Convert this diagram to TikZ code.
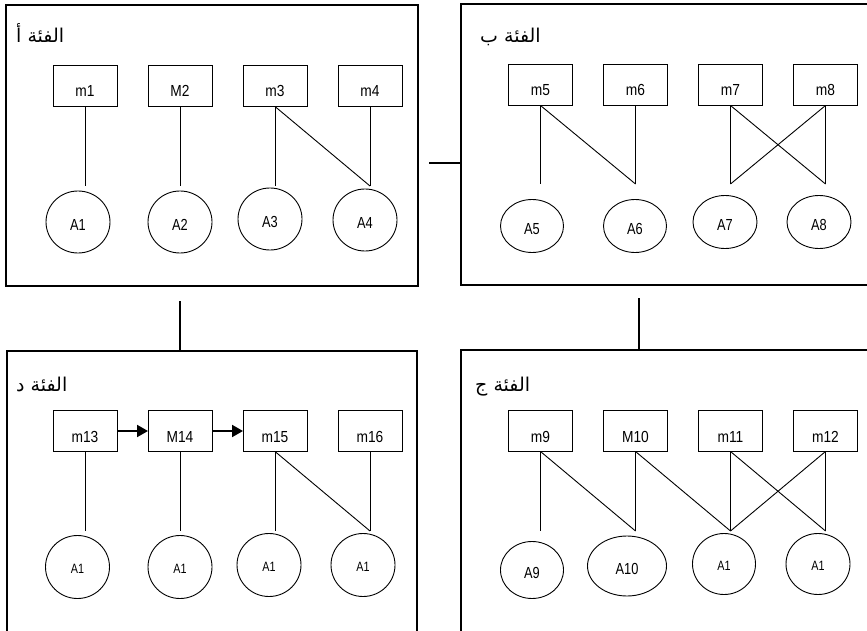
\documentclass[tikz,border=0pt]{standalone}
\usepackage{fontspec}
\usetikzlibrary{positioning, arrows.meta, shapes.geometric}
\setmainfont{Liberation Sans}
\newfontfamily\arabicfont[Script=Arabic]{DejaVu Sans}
\newfontfamily\narrowfont[FakeStretch=0.86]{Liberation Sans}
\newfontfamily\slimfont[FakeStretch=0.8]{Liberation Sans}
\TeXXeTstate=1

\begin{document}
\begin{tikzpicture}[
  x=1pt, y=-1pt,
  panel/.style={draw, line width=1.3pt, inner sep=0pt},
  ttl/.style={anchor=base west, inner sep=0pt, font=\arabicfont\fontsize{19}{21}\selectfont},
  mbox/.style={draw, line width=0.9pt, minimum width=64pt, minimum height=41pt, inner sep=0pt,
               outer sep=0pt, text height=22pt, text depth=0pt, font=\narrowfont\fontsize{16}{18}\selectfont},
  att/.style={draw, ellipse, line width=0.9pt, inner sep=0pt, text height=17pt, text depth=0pt,
              font=\slimfont\fontsize{16}{18}\selectfont},
  attsm/.style={att, text height=13pt, font=\slimfont\fontsize{13.5}{15}\selectfont},
  link/.style={line width=0.9pt},
  tie/.style={line width=1.1pt},
  arr/.style={-{Triangle[length=11pt, width=12pt]}, line width=2pt}
]
\useasboundingbox (0,0) rectangle (867,631);

% Panels
\node[panel, minimum width=412pt, minimum height=281pt] (pa) at (212,145.5) {};
\node[panel, minimum width=419pt, minimum height=281pt] (pb) at (670.5,144.5) {};
\node[panel, minimum width=410pt, minimum height=294pt] (pd) at (212,498) {};
\node[panel, minimum width=419pt, minimum height=295pt] (pc) at (670.5,497.5) {};

\node[ttl] (ta) at (16,43) {\beginR الفئة أ\endR};
\node[ttl] (tb) at (480,43) {\beginR الفئة ب\endR};
\node[ttl] (td) at (16,391) {\beginR الفئة د\endR};
\node[ttl] (tc) at (475,391) {\beginR الفئة ج\endR};

% Links between panels
\coordinate (hab) at (429,163);
\coordinate (vad) at (180,301);
\coordinate (vbc) at (639,298);
\draw[tie] (hab) -- (hab -| pb.west);
\draw[tie] (vad) -- (vad |- pd.north);
\draw[tie] (vbc) -- (vbc |- pc.north);

% Panel A
\node[mbox] (m1) at (85,86) {m1};
\node[mbox, right=31pt of m1] (m2) {M2};
\node[mbox, right=31pt of m2] (m3) {m3};
\node[mbox, right=31pt of m3] (m4) {m4};
\node[att, minimum width=64pt, minimum height=62pt] (a1) at (78,222) {A1};
\node[att, minimum width=64pt, minimum height=62pt] (a2) at (180,222) {A2};
\node[att, minimum width=64pt, minimum height=62pt] (a3) at (270,219) {A3};
\node[att, minimum width=64pt, minimum height=62pt] (a4) at (365,220) {A4};
\coordinate (t1) at (85,186);
\coordinate (t2) at (180,186);
\coordinate (t3) at (275,186);
\coordinate (t4) at (370,186);
\draw[link] (m1.south) -- (t1);
\draw[link] (m2.south) -- (t2);
\draw[link] (m3.south) -- (t3);
\draw[link] (m3.south) -- (t4);
\draw[link] (m4.south) -- (t4);

% Panel B
\node[mbox] (m5) at (540.5,85) {m5};
\node[mbox, right=31pt of m5] (m6) {m6};
\node[mbox, right=31pt of m6] (m7) {m7};
\node[mbox, right=31pt of m7] (m8) {m8};
\node[att, minimum width=63pt, minimum height=53pt] (a5) at (532,226) {A5};
\node[att, minimum width=63pt, minimum height=53pt] (a6) at (635,226) {A6};
\node[att, minimum width=64pt, minimum height=53pt] (a7) at (725,222) {A7};
\node[att, minimum width=64pt, minimum height=53pt] (a8) at (819,222) {A8};
\coordinate (t5) at (540.5,184);
\coordinate (t6) at (635.5,184);
\coordinate (t7) at (730.5,184);
\coordinate (t8) at (825.5,184);
\draw[link] (m5.south) -- (t5);
\draw[link] (m5.south) -- (t6);
\draw[link] (m6.south) -- (t6);
\draw[link] (m7.south) -- (t7);
\draw[link] (m7.south) -- (t8);
\draw[link] (m8.south) -- (t8);
\draw[link] (m8.south) -- (t7);

% Panel C
\node[mbox] (m9) at (540.5,431) {m9};
\node[mbox, right=31pt of m9] (m10) {M10};
\node[mbox, right=31pt of m10] (m11) {m11};
\node[mbox, right=31pt of m11] (m12) {m12};
\node[att, minimum width=63pt, minimum height=57pt] (a9) at (532,570) {A9};
\node[att, minimum width=79pt, minimum height=60pt] (a10) at (627,566) {A10};
\node[attsm, minimum width=63pt, minimum height=61pt] (a11) at (724,564) {A1};
\node[attsm, minimum width=64pt, minimum height=61pt] (a12) at (818,564) {A1};
\coordinate (t9) at (540.5,531);
\coordinate (t10) at (635.5,531);
\coordinate (t11) at (730.5,531);
\coordinate (t12) at (825.5,531);
\draw[link] (m9.south) -- (t9);
\draw[link] (m9.south) -- (t10);
\draw[link] (m10.south) -- (t10);
\draw[link] (m10.south) -- (t11);
\draw[link] (m11.south) -- (t11);
\draw[link] (m11.south) -- (t12);
\draw[link] (m12.south) -- (t12);
\draw[link] (m12.south) -- (t11);

% Panel D
\node[mbox] (m13) at (85,431) {m13};
\node[mbox, right=31pt of m13] (m14) {M14};
\node[mbox, right=31pt of m14] (m15) {m15};
\node[mbox, right=31pt of m15] (m16) {m16};
\node[attsm, minimum width=64pt, minimum height=63pt] (a13) at (77.5,567) {A1};
\node[attsm, minimum width=64pt, minimum height=63pt] (a14) at (180,567) {A1};
\node[attsm, minimum width=64pt, minimum height=63pt] (a15) at (269,565) {A1};
\node[attsm, minimum width=64pt, minimum height=63pt] (a16) at (363,565) {A1};
\coordinate (t13) at (85,531);
\coordinate (t14) at (180,531);
\coordinate (t15) at (275,531);
\coordinate (t16) at (370,531);
\draw[arr] (m13) -- (m14);
\draw[arr] (m14) -- (m15);
\draw[link] (m13.south) -- (t13);
\draw[link] (m14.south) -- (t14);
\draw[link] (m15.south) -- (t15);
\draw[link] (m15.south) -- (t16);
\draw[link] (m16.south) -- (t16);

\end{tikzpicture}
\end{document}
